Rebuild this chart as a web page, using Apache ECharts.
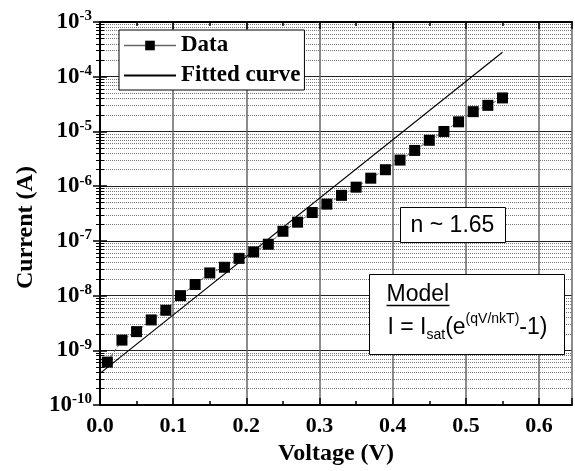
<!DOCTYPE html>
<html lang="en">
<head>
    <meta charset="UTF-8">
    <title>Current vs Voltage</title>
    <script src="https://cdn.jsdelivr.net/npm/echarts@6.0.0/dist/echarts.min.js"></script>
    <style>
        html, body { margin: 0; padding: 0; background: #fff; }
        #chart { width: 575px; height: 471px; }
    </style>
</head>
<body>
    <div id="chart"></div>
    <script>
        // measured data (V, A)
        const voltage = [0.01, 0.03, 0.05, 0.07, 0.09, 0.11, 0.13, 0.15, 0.17, 0.19,
            0.21, 0.23, 0.25, 0.27, 0.29, 0.31, 0.33, 0.35, 0.37, 0.39,
            0.41, 0.43, 0.45, 0.47, 0.49, 0.51, 0.53, 0.55];
        const current = [6.1e-10, 1.54e-9, 2.2e-9, 3.6e-9, 5.4e-9, 1.0e-8, 1.6e-8, 2.6e-8, 3.3e-8, 4.8e-8,
            6.3e-8, 8.7e-8, 1.5e-7, 2.2e-7, 3.3e-7, 4.7e-7, 6.8e-7, 9.6e-7, 1.4e-6, 2.0e-6,
            3.0e-6, 4.5e-6, 6.9e-6, 1.0e-5, 1.5e-5, 2.3e-5, 3.0e-5, 4.1e-5];

        // fitted curve end points
        const fitVoltage = [0.0, 0.55];
        const fitCurrent = [3.8e-10, 2.8e-4];

        const serif = 'Liberation Serif, Times New Roman, serif';
        const sans = 'Liberation Sans, Arial, sans-serif';

        const chart = echarts.init(document.getElementById('chart'));
        chart.setOption({
            animation: false,
            grid: { left: 100, top: 22, right: 3, bottom: 63 },
            legend: {
                data: [
                    { name: 'Data', lineStyle: { type: 'solid', color: '#666', width: 1.5 } },
                    { name: 'Fitted curve', itemStyle: { opacity: 0 } }
                ],
                orient: 'vertical',
                left: 119, top: 30,
                backgroundColor: '#fff',
                borderColor: '#000', borderWidth: 1,
                padding: [4, 4, 3, 4],
                itemWidth: 52, itemHeight: 12, itemGap: 7,
                textStyle: { fontFamily: serif, fontWeight: 'bold', fontSize: 23, color: '#000' },
                z: 20
            },
            xAxis: [{
                type: 'value', min: 0, max: 0.645, interval: 0.1,
                name: 'Voltage (V)', nameLocation: 'middle', nameGap: 36,
                nameTextStyle: { fontFamily: serif, fontWeight: 'bold', fontSize: 24, color: '#000' },
                axisLine: { lineStyle: { color: '#000', width: 2 } },
                axisTick: { inside: true, length: 7, lineStyle: { color: '#000', width: 1.5 } },
                minorTick: { show: true, splitNumber: 2, length: 4, lineStyle: { color: '#000', width: 1.5 } },
                axisLabel: {
                    showMaxLabel: false, margin: 10,
                    fontFamily: serif, fontWeight: 'bold', fontSize: 22, color: '#000',
                    formatter: function (v) { return v.toFixed(1); }
                },
                splitLine: { show: true, lineStyle: { color: '#666', width: 1.5 } }
            }, {
                type: 'value', min: 0, max: 0.645, interval: 0.1, position: 'top',
                axisLine: { lineStyle: { color: '#000', width: 2 } },
                axisTick: { inside: true, length: 7, lineStyle: { color: '#000', width: 1.5 } },
                minorTick: { show: true, splitNumber: 2, length: 4, lineStyle: { color: '#000', width: 1.5 } },
                axisLabel: { show: false },
                splitLine: { show: false }
            }],
            yAxis: [{
                type: 'log', logBase: 10, min: 1e-10, max: 1e-3, splitNumber: 7,
                name: 'Current (A)', nameLocation: 'middle', nameGap: 62, nameRotate: 90,
                nameTextStyle: { fontFamily: serif, fontWeight: 'bold', fontSize: 24, color: '#000', padding: [0, 28, 0, 0] },
                axisLine: { lineStyle: { color: '#000', width: 2 } },
                axisTick: { inside: true, length: 7, lineStyle: { color: '#000', width: 1.5 } },
                minorTick: { show: true, splitNumber: 9, length: 4, lineStyle: { color: '#000', width: 1 } },
                minorSplitLine: { show: true, lineStyle: { color: '#777', type: 'dotted', width: 1 } },
                axisLabel: {
                    margin: 8,
                    formatter: function (v) {
                        return '{b|10}{s|' + Math.round(Math.log10(v)) + '}';
                    },
                    rich: {
                        b: { fontFamily: serif, fontWeight: 'bold', fontSize: 23, color: '#000', lineHeight: 26 },
                        s: { fontFamily: serif, fontWeight: 'bold', fontSize: 15, color: '#000', lineHeight: 15, verticalAlign: 'top' }
                    }
                },
                splitLine: { show: true, lineStyle: { color: '#222', width: 1.2 } }
            }, {
                type: 'log', logBase: 10, min: 1e-10, max: 1e-3, splitNumber: 7, position: 'right',
                axisLine: { lineStyle: { color: '#000', width: 2 } },
                axisTick: { inside: true, length: 7, lineStyle: { color: '#000', width: 1.5 } },
                minorTick: { show: true, splitNumber: 9, length: 4, lineStyle: { color: '#000', width: 1 } },
                axisLabel: { show: false },
                splitLine: { show: false }
            }],
            series: [{
                name: 'Fitted curve',
                type: 'line',
                data: fitVoltage.map(function (v, i) { return [v, fitCurrent[i]]; }),
                symbol: 'none',
                lineStyle: { color: '#000', width: 1.2 },
                itemStyle: { color: '#000' },
                z: 3
            }, {
                name: 'Data',
                type: 'line',
                data: voltage.map(function (v, i) { return [v, current[i]]; }),
                symbol: 'rect',
                symbolSize: 11,
                itemStyle: { color: '#000' },
                lineStyle: { color: '#666', width: 1, type: 'dashed' },
                z: 4
            }],
            graphic: [{
                type: 'group', left: 400, top: 207,
                children: [{
                    type: 'rect', z: 50, shape: { x: 0, y: 0, width: 105, height: 35 },
                    style: { fill: '#fff', stroke: '#000', lineWidth: 1 }
                }, {
                    type: 'text', z: 51, x: 52, y: 18,
                    style: { text: 'n ~ 1.65', fontFamily: sans, fontSize: 23, fill: '#000', align: 'center', verticalAlign: 'middle' }
                }]
            }, {
                type: 'group', left: 369, top: 274,
                children: [{
                    type: 'rect', z: 50, shape: { x: 0, y: 0, width: 195, height: 80 },
                    style: { fill: '#fff', stroke: '#000', lineWidth: 1 }
                }, {
                    type: 'text', z: 51, x: 17, y: 20,
                    style: { text: 'Model', fontFamily: sans, fontSize: 23, fill: '#000', verticalAlign: 'middle' }
                }, {
                    type: 'line', z: 51, shape: { x1: 17, y1: 31, x2: 80, y2: 31 },
                    style: { stroke: '#000', lineWidth: 1.5 }
                }, {
                    type: 'text', z: 51, x: 18, y: 53,
                    style: {
                        text: '{m|I = I}{sub|sat}{m|(e}{sup|(qV/nkT)}{m|-1)}',
                        verticalAlign: 'middle',
                        rich: {
                            m: { fontFamily: sans, fontSize: 23, fill: '#000', lineHeight: 30 },
                            sub: { fontFamily: sans, fontSize: 14, fill: '#000', lineHeight: 14, verticalAlign: 'bottom' },
                            sup: { fontFamily: sans, fontSize: 14, fill: '#000', lineHeight: 14, verticalAlign: 'top' }
                        }
                    }
                }]
            }]
        });
    </script>
</body>
</html>
